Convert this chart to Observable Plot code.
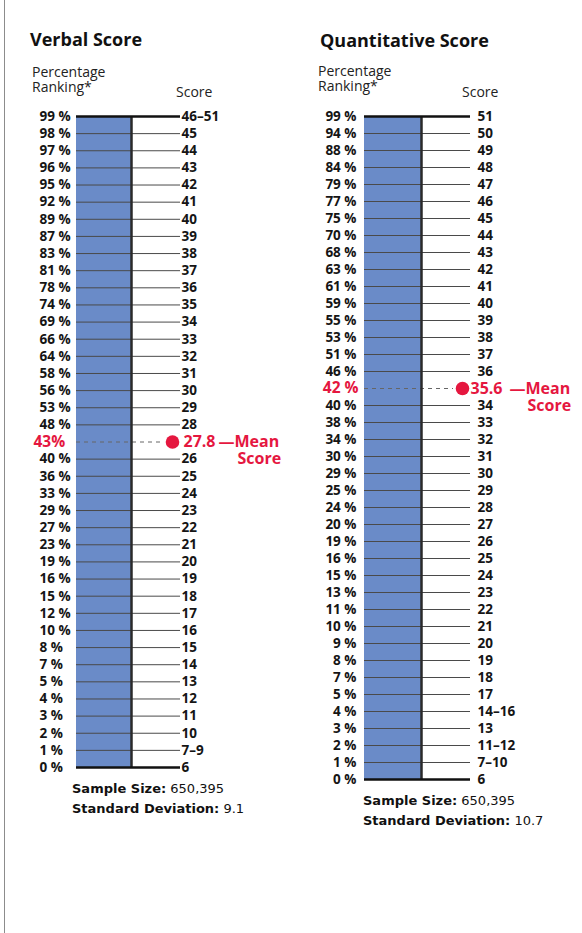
<!DOCTYPE html>
<html>
<head>
<meta charset="utf-8">
<script src="https://cdn.jsdelivr.net/npm/d3@7"></script>
<script src="https://cdn.jsdelivr.net/npm/@observablehq/plot@0.6"></script>
<style>
  body { margin: 0; background: #fff; }
  #page { position: relative; width: 582px; height: 933px; overflow: hidden; font-family: "Open Sans", sans-serif; color: #1a1a1a; }
  #border { position: absolute; left: 4px; top: 0; height: 933px; border-left: 1.5px solid #8c8c8c; }
  .t { position: absolute; white-space: nowrap; }
  .title { font-weight: 700; font-size: 18px; line-height: 22px; color: #111; }
  .hdr { font-size: 14px; line-height: 15px; color: #222; }
  .foot { font-family: "DejaVu Sans", sans-serif; font-size: 13px; line-height: 16px; color: #111; }
  .foot b { font-weight: 700; }
  .plot { position: absolute; top: 100px; }
</style>
</head>
<body>
<div id="page">
  <div id="border"></div>
  <div class="t title" style="left:30px;top:28px">Verbal Score</div>
  <div class="t hdr" style="left:32px;top:64px">Percentage</div>
  <div class="t hdr" style="left:32px;top:79px">Ranking*</div>
  <div class="t hdr" style="left:176px;top:84px">Score</div>
  <div class="t title" style="left:320px;top:29px">Quantitative Score</div>
  <div class="t hdr" style="left:318px;top:63px">Percentage</div>
  <div class="t hdr" style="left:318px;top:78px">Ranking*</div>
  <div class="t hdr" style="left:462px;top:84px">Score</div>
  <div id="left" class="plot" style="left:0px"></div>
  <div id="right" class="plot" style="left:291px"></div>
  <div class="t foot" id="lf1" style="left:72px;top:781px"></div>
  <div class="t foot" id="lf2" style="left:72px;top:801px"></div>
  <div class="t foot" id="rf1" style="left:363px;top:793px"></div>
  <div class="t foot" id="rf2" style="left:363px;top:813px"></div>
</div>
<script>
// ---------- data ----------
const verbalPercentLabels = ["99 %","98 %","97 %","96 %","95 %","92 %","89 %","87 %","83 %","81 %","78 %","74 %","69 %","66 %","64 %","58 %","56 %","53 %","48 %","43%","40 %","36 %","33 %","29 %","27 %","23 %","19 %","16 %","15 %","12 %","10 %","8 %","7 %","5 %","4 %","3 %","2 %","1 %","0 %"];
const verbalScoreLabels = ["46–51","45","44","43","42","41","40","39","38","37","36","35","34","33","32","31","30","29","28","27.8","26","25","24","23","22","21","20","19","18","17","16","15","14","13","12","11","10","7–9","6"];
const verbalMean = "27.8";
const verbalSampleSize = "650,395";
const verbalSD = "9.1";

const quantPercentLabels = ["99 %","94 %","88 %","84 %","79 %","77 %","75 %","70 %","68 %","63 %","61 %","59 %","55 %","53 %","51 %","46 %","42 %","40 %","38 %","34 %","30 %","29 %","25 %","24 %","20 %","19 %","16 %","15 %","13 %","11 %","10 %","9 %","8 %","7 %","5 %","4 %","3 %","2 %","1 %","0 %"];
const quantScoreLabels = ["51","50","49","48","47","46","45","44","43","42","41","40","39","38","37","36","35.6","34","33","32","31","30","29","28","27","26","25","24","23","22","21","20","19","18","17","14–16","13","11–12","7–10","6"];
const quantMean = "35.6";
const quantSampleSize = "650,395";
const quantSD = "10.7";

// ---------- styling ----------
const BLUE = "#6a8bc8";
const RED = "#e5173f";
const INK = "#151515";

function panel(pcts, scores, mean, L) {
  const rows = pcts.map((p, i) => ({ i, pct: p, score: scores[i], mean: scores[i] === mean }));
  const n = rows.length;
  const normal = rows.filter(d => !d.mean);
  const inner = normal.filter(d => d.i !== 0 && d.i !== n - 1);
  const meanRows = rows.filter(d => d.mean);
  const ends = rows.filter(d => d.i === 0 || d.i === n - 1);
  return Plot.plot({
    width: 291,
    height: L.height,
    margin: 0,
    style: { overflow: "visible", background: "transparent" },
    x: { type: "identity", axis: null },
    y: { type: "linear", domain: [0, n - 1], range: [L.top, L.bottom], axis: null },
    marks: [
      Plot.rect([rows[0]], { x1: L.barL, x2: L.barR, y1: () => 0, y2: () => n - 1, fill: BLUE }),
      Plot.ruleY(inner, { y: "i", x1: L.barL, x2: L.tickR, stroke: "#4a4a4a", strokeWidth: 1 }),
      Plot.ruleY(meanRows, { y: "i", x1: L.barL, x2: L.dashR, stroke: "#666", strokeWidth: 1, strokeDasharray: "4,4" }),
      Plot.ruleX([rows[0]], { x: L.barR, y1: () => 0, y2: () => n - 1, stroke: "#2a2a2a", strokeWidth: 2.5 }),
      Plot.ruleY(ends, { y: "i", x1: L.barL, x2: L.tickR, stroke: "#111", strokeWidth: 2.5 }),
      Plot.dot(meanRows, { x: L.dotX, y: "i", r: 6.8, fill: RED, stroke: null }),
      Plot.text(normal, { x: L.pctX, y: "i", text: "pct", textAnchor: L.pctAnchor, fontFamily: "Open Sans", fontWeight: 700, fontSize: 13.5, fill: INK }),
      Plot.text(meanRows, { x: L.meanPctX, y: "i", text: "pct", textAnchor: L.pctAnchor, fontFamily: "Open Sans", fontWeight: 700, fontSize: 15.5, fill: RED }),
      Plot.text(normal, { x: L.scoreX, y: "i", text: "score", textAnchor: "start", fontFamily: "Open Sans", fontWeight: 700, fontSize: 13.5, fill: INK }),
      Plot.text(meanRows, { x: L.meanX, y: "i", text: "score", textAnchor: "start", fontFamily: "Open Sans", fontWeight: 700, fontSize: 16, fill: RED }),
      Plot.text(meanRows, { x: L.dashX, y: "i", text: () => "—Mean", textAnchor: "start", fontFamily: "Open Sans", fontWeight: 700, fontSize: 16, fill: RED }),
      Plot.text(meanRows, { x: L.scoreWordX, y: "i", dy: 17, text: () => "Score", textAnchor: "start", fontFamily: "Open Sans", fontWeight: 700, fontSize: 16, fill: RED })
    ]
  });
}

document.getElementById("left").append(panel(verbalPercentLabels, verbalScoreLabels, verbalMean, {
  height: 690, top: 16, bottom: 667,
  barL: 76, barR: 131, tickR: 180, dashR: 163, dotX: 172,
  pctX: 39, meanPctX: 33, pctAnchor: "start",
  scoreX: 181, meanX: 183, dashX: 218, scoreWordX: 237
}));
document.getElementById("right").append(panel(quantPercentLabels, quantScoreLabels, quantMean, {
  height: 690, top: 16, bottom: 679,
  barL: 73, barR: 130, tickR: 179, dashR: 162, dotX: 171,
  pctX: 65, meanPctX: 67, pctAnchor: "end",
  scoreX: 186, meanX: 179, dashX: 218, scoreWordX: 236
}));

document.getElementById("lf1").innerHTML = "<b>Sample Size:</b> " + verbalSampleSize;
document.getElementById("lf2").innerHTML = "<b>Standard Deviation:</b> " + verbalSD;
document.getElementById("rf1").innerHTML = "<b>Sample Size:</b> " + quantSampleSize;
document.getElementById("rf2").innerHTML = "<b>Standard Deviation:</b> " + quantSD;
</script>
</body>
</html>
